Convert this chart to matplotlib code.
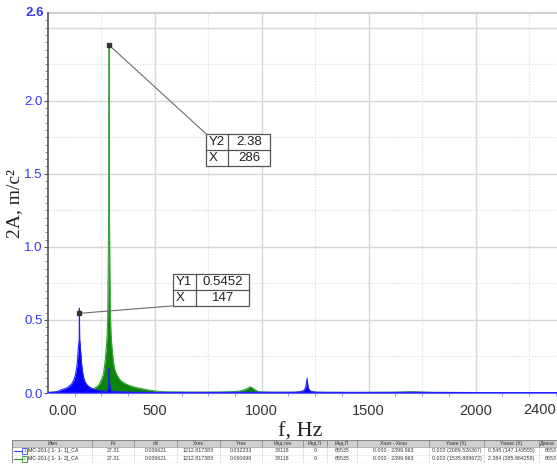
import matplotlib
matplotlib.use("Agg")
import matplotlib.pyplot as plt
from matplotlib.patches import Rectangle
import numpy as np

# ---------------- data ----------------
freq1 = [0, 20, 40, 50, 60, 75, 90, 100, 110, 120, 128, 133, 138, 141, 144, 146, 147,
         148, 150, 153, 157, 161, 166, 172, 180, 190, 200, 215, 235, 255, 270, 278,
         281, 283, 285, 286, 287, 289, 292, 300, 330, 400, 500, 600, 700, 800, 900,
         1000, 1100, 1150, 1180, 1195, 1203, 1208, 1212, 1215, 1219, 1226, 1240, 1260,
         1400, 1600, 1700, 1800, 2000, 2200, 2400]
amp1 = [0.003, 0.005, 0.008, 0.013, 0.02, 0.028, 0.036, 0.048, 0.06, 0.085, 0.12, 0.16,
        0.22, 0.29, 0.34, 0.36, 0.58, 0.37, 0.34, 0.28, 0.2, 0.15, 0.11, 0.08, 0.06,
        0.045, 0.035, 0.025, 0.018, 0.014, 0.012, 0.015, 0.03, 0.06, 0.1, 0.17, 0.1,
        0.05, 0.025, 0.012, 0.008, 0.005, 0.004, 0.004, 0.004, 0.004, 0.005, 0.005,
        0.005, 0.005, 0.008, 0.015, 0.03, 0.055, 0.1, 0.06, 0.03, 0.015, 0.008, 0.005,
        0.004, 0.004, 0.005, 0.004, 0.003, 0.003, 0.003]

freq2 = [0, 20, 40, 60, 100, 150, 180, 200, 215, 230, 240, 246, 251, 256, 260, 264,
         268, 272, 276, 279, 281, 283, 284.5, 286, 287.5, 289, 291, 294, 298, 302, 306,
         311, 316, 322, 330, 340, 352, 365, 380, 400, 425, 450, 480, 510, 550, 600, 700,
         800, 860, 890, 910, 925, 935, 942, 948, 955, 962, 972, 985, 1000, 1050, 1150,
         1190, 1205, 1212, 1220, 1240, 1300, 1450, 1600, 1660, 1700, 1740, 1800, 2000,
         2200, 2400]
amp2 = [0.004, 0.006, 0.008, 0.006, 0.008, 0.01, 0.015, 0.022, 0.03, 0.045, 0.06, 0.08,
        0.095, 0.115, 0.14, 0.18, 0.23, 0.3, 0.38, 0.5, 0.78, 1.05, 1.55, 2.384, 1.25,
        0.85, 0.6, 0.42, 0.33, 0.27, 0.21, 0.17, 0.145, 0.125, 0.105, 0.085, 0.072,
        0.062, 0.052, 0.042, 0.033, 0.026, 0.018, 0.012, 0.008, 0.007, 0.006, 0.007,
        0.009, 0.012, 0.018, 0.026, 0.034, 0.04, 0.042, 0.036, 0.028, 0.018, 0.01,
        0.007, 0.005, 0.005, 0.008, 0.015, 0.025, 0.012, 0.006, 0.004, 0.004, 0.005,
        0.007, 0.009, 0.007, 0.004, 0.003, 0.003, 0.003]

cursor1 = (147, 0.5452)
cursor2 = (286, 2.38)
cursor1_labels = [["Y1", "0.5452"], ["X", "147"]]
cursor2_labels = [["Y2", "2.38"], ["X", "286"]]

xticks = [0, 500, 1000, 1500, 2000]
xticklabels = ["0.00", "500", "1000", "1500", "2000"]
last_xlabel = "2400"
yticks = [0.0, 0.5, 1.0, 1.5, 2.0]
yticklabels = ["0.0", "0.5", "1.0", "1.5", "2.0"]
ytop_label = "2.6"

table_headers = ["Имя", "Fs", "dX", "Xтек", "Yтек", "Инд.тек", "Инд.Л", "Инд.П",
                 "Xнач - Xкон", "Yмин (X)", "Yмакс (X)", "Длина"]
table_rows = [
    ["МС-201-[ 1- 1- 1]_CA", "27.31", "0.036621", "1212.817383", "0.032233", "33118",
     "0", "65535", "0.000 - 2399.963", "0.000 (2089.526367)", "0.545 (147.143555)", "6553"],
    ["МС-201-[ 1- 1- 2]_CA", "27.31", "0.036621", "1212.817383", "0.060698", "33118",
     "0", "65535", "0.000 - 2399.963", "0.000 (1535.888672)", "2.384 (285.864258)", "6553"],
]
row_colors = ["#3344ff", "#2e9a2e"]

# ---------------- figure ----------------
W, H = 557, 468
fig = plt.figure(figsize=(W / 100, H / 100), dpi=100)
plt.rcParams['font.family'] = ['Liberation Sans', 'DejaVu Sans']

ax_left, ax_right, ax_top, ax_bot = 48, 561, 13, 393
ax = fig.add_axes([ax_left / W, (H - ax_bot) / H, (ax_right - ax_left) / W,
                   (ax_bot - ax_top) / H])
ax.set_xlim(0, 2400)
ax.set_ylim(0, 2.6)

# grid
for gx in np.arange(250, 2400, 250):
    if gx % 500 == 0:
        ax.axvline(gx, color="#d6d6d6", lw=1.0, zorder=0)
    else:
        ax.axvline(gx, color="#d9d9d9", lw=0.8, ls=(0, (1, 1.5)), zorder=0)
for gy in np.arange(0.25, 2.6, 0.25):
    if abs(gy / 0.5 - round(gy / 0.5)) < 1e-6:
        ax.axhline(gy, color="#d6d6d6", lw=1.0, zorder=0)
    else:
        ax.axhline(gy, color="#d9d9d9", lw=0.8, ls=(0, (1, 1.5)), zorder=0)

# spectra
ax.fill_between(freq2, 0, amp2, color="#0b860b", lw=0, zorder=2)
ax.plot(freq2, amp2, color="#38a838", lw=0.8, zorder=2)
ax.fill_between(freq1, 0, amp1, color="#0000ff", lw=0, zorder=3)
ax.plot(freq1, amp1, color="#2020ff", lw=0.8, zorder=3)
ax.axhline(0.002, color="#2222ff", lw=1.2, zorder=3)

# spines
for s in ["top", "right"]:
    ax.spines[s].set_visible(False)
ax.axhline(2.6, color="#cfcfcf", lw=1.5, zorder=1, clip_on=False)
ax.spines["left"].set_color("#555555")
ax.spines["left"].set_linewidth(1.2)
ax.spines["bottom"].set_color("#c0c0ff")

ax.set_xticks(xticks)
ax.set_xticklabels(xticklabels, fontsize=10.5, color="#333333")
ax.get_xticklabels()[0].set_horizontalalignment("left")
ax.tick_params(axis="x", length=0, pad=8)
fig.text(556 / W, 1 - 403 / H, last_xlabel, ha="right", va="top",
         fontsize=10.5, color="#333333")
ax.set_xticks(np.arange(0, 2400, 125), minor=True)
ax.tick_params(axis="x", which="minor", length=2, color="#8888ff")

ax.set_yticks(yticks)
ax.set_yticklabels(yticklabels, fontsize=9.5, color="#3535ff")
ax.set_yticks(np.arange(0, 2.6, 0.05), minor=True)
ax.tick_params(axis="y", which="major", length=3, color="#555555", pad=1)
ax.tick_params(axis="y", which="minor", length=2, color="#777777")
ax.text(-0.008, 2.6, ytop_label, transform=ax.get_yaxis_transform(), ha="right",
        va="center", fontsize=9.5, color="#3535ff", fontweight="bold")

# axis titles
fig.text(300 / W, 1 - 432 / H, "f, Hz", ha="center", va="center", fontsize=16,
         family=["Liberation Serif", "DejaVu Serif"], color="#222222")
fig.text(15 / W, 1 - 204 / H, "2A, m/c²", ha="center", va="center", fontsize=14,
         rotation=90, family=["Liberation Serif", "DejaVu Serif"], color="#222222")


# cursor boxes
def cursor_box(cx, cy, x0, x1, y0, y1, xdiv, labels, corner):
    ax.plot([cx, corner[0]], [cy, corner[1]], color="#6a6a6a", lw=0.8, zorder=5)
    ax.plot([cx], [cy], marker="s", ms=2.5, color="#333333", zorder=6)
    ax.add_patch(Rectangle((x0, y0), x1 - x0, y1 - y0, facecolor="white",
                           edgecolor="#555555", lw=0.9, zorder=6))
    ym = (y0 + y1) / 2
    ax.plot([x0, x1], [ym, ym], color="#555555", lw=0.9, zorder=7)
    ax.plot([xdiv, xdiv], [y0, y1], color="#555555", lw=0.9, zorder=7)
    for r, (a, b) in enumerate(labels):
        yc = y1 - (r + 0.5) * (y1 - y0) / 2
        ax.text(x0 + 12, yc, a, ha="left", va="center", fontsize=9.5, zorder=8,
                color="#222222")
        ax.text((xdiv + x1) / 2, yc, b, ha="center", va="center", fontsize=9.5,
                zorder=8, color="#222222")


cursor_box(cursor2[0], cursor2[1], 739, 1039, 1.555, 1.774, 842, cursor2_labels,
           (739, 1.774))
cursor_box(cursor1[0], cursor1[1], 585, 941, 0.596, 0.815, 693, cursor1_labels,
           (585, 0.596))

# ---------------- bottom table ----------------
tx0, tx1, ty0, ty1 = 12, 557, 440, 463
tax = fig.add_axes([tx0 / W, (H - ty1) / H, (tx1 - tx0) / W, (ty1 - ty0) / H])
tax.set_xlim(tx0, tx1)
tax.set_ylim(ty1, ty0)
tax.axis("off")
cols = [12, 92, 134, 177, 220, 262, 303, 327, 357, 429, 484, 539, 580]
rows_y = [440, 447, 455, 463]
tax.add_patch(Rectangle((12, 440), 568, 7, facecolor="#cfcfcf", edgecolor="none"))
tax.add_patch(Rectangle((12, 447), 568, 16, facecolor="white", edgecolor="none"))
for x in cols[1:-1]:
    tax.plot([x, x], [440, 447], color="#8a8a8a", lw=0.6)
    tax.plot([x, x], [447, 463], color="#d8d8d8", lw=0.5)
tax.plot([12, 580], [440, 440], color="#888888", lw=0.8)
tax.plot([12, 580], [463, 463], color="#888888", lw=0.8)
tax.plot([12, 12], [440, 463], color="#888888", lw=0.8)
tax.plot([12, 580], [447, 447], color="#999999", lw=0.5)
tax.plot([12, 580], [455, 455], color="#e0e0e0", lw=0.4)
for i, h in enumerate(table_headers):
    tax.text((cols[i] + cols[i + 1]) / 2 if i < 11 else cols[i] + 1, 443.7, h,
             ha="center" if i < 11 else "left", va="center", fontsize=3.6,
             color="#333333")
for r, row in enumerate(table_rows):
    yc = (rows_y[r + 1] + rows_y[r + 2]) / 2
    tax.plot([14, 22], [yc, yc], color=row_colors[r], lw=0.8)
    tax.add_patch(Rectangle((22, yc - 3), 5, 6, facecolor="white",
                            edgecolor=row_colors[r], lw=0.6))
    tax.text(24.5, yc, str(r + 1), ha="center", va="center", fontsize=3.6,
             color=row_colors[r])
    tax.text(28.5, yc, row[0], ha="left", va="center", fontsize=3.8, color="#222222")
    for i in range(1, 12):
        if i < 11:
            tax.text((cols[i] + cols[i + 1]) / 2, yc, row[i], ha="center",
                     va="center", fontsize=3.8, color="#333333")
        else:
            tax.text(cols[i] + 6, yc, row[i], ha="left", va="center", fontsize=3.8,
                     color="#333333")

fig.savefig("out.png", dpi=100)
